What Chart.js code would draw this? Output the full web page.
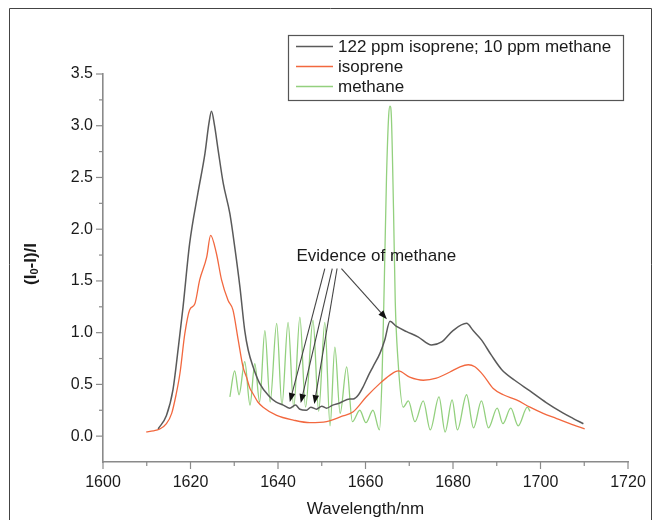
<!DOCTYPE html>
<html>
<head>
<meta charset="utf-8">
<script src="https://cdn.jsdelivr.net/npm/chart.js@4.4.1/dist/chart.umd.min.js"></script>
<style>
  html, body { margin: 0; padding: 0; background: #ffffff; }
  #wrap { width: 660px; height: 520px; position: relative; }
</style>
</head>
<body>
<div id="wrap"><canvas id="c" width="660" height="520"></canvas></div>
<script>
// ---- Data ----
const mixWavelength = [1612.6,1614.5,1616.0,1617.2,1618.3,1619.8,1621.7,1623.3,1624.2,1624.8,1625.5,1626.3,1627.5,1629.0,1630.2,1631.3,1632.4,1633.2,1634.3,1635.8,1638.1,1639.5,1641.2,1642.7,1644.0,1645.0,1646.5,1647.5,1648.8,1650.0,1651.1,1652.5,1654.1,1656.4,1657.2,1658.4,1659.5,1660.6,1661.7,1663.3,1664.4,1665.6,1667.1,1669.4,1672.0,1675.1,1677.4,1680.0,1683.1,1684.6,1686.5,1688.8,1691.1,1694.1,1697.5,1701.3,1705.1,1707.5,1709.8];
const mixValues     = [0.07,0.20,0.45,0.85,1.25,1.86,2.35,2.73,3.02,3.14,3.00,2.77,2.44,2.15,1.80,1.44,1.02,0.83,0.67,0.51,0.38,0.33,0.30,0.27,0.30,0.26,0.25,0.28,0.26,0.29,0.27,0.30,0.32,0.36,0.36,0.40,0.48,0.58,0.67,0.80,0.93,1.11,1.06,1.01,0.96,0.88,0.91,1.02,1.09,1.02,0.93,0.78,0.645,0.54,0.44,0.325,0.225,0.17,0.12];

const isopreneWavelength = [1609.9,1611.5,1613.0,1614.5,1615.7,1616.7,1617.6,1618.7,1619.8,1621.0,1622.1,1623.7,1624.6,1625.9,1627.1,1628.6,1629.7,1630.9,1632.0,1632.8,1633.6,1634.3,1635.4,1636.6,1639.7,1643.5,1647.3,1651.1,1654.5,1657.2,1660.2,1663.3,1665.6,1667.5,1670.1,1673.2,1676.2,1679.3,1681.6,1683.5,1685.0,1686.9,1689.2,1691.5,1694.5,1697.6,1700.6,1703.7,1706.7,1710.1];
const isopreneValues     = [0.04,0.05,0.07,0.12,0.22,0.40,0.61,0.99,1.22,1.28,1.51,1.73,1.94,1.77,1.51,1.31,1.22,0.93,0.67,0.57,0.46,0.41,0.33,0.28,0.20,0.155,0.13,0.14,0.19,0.235,0.38,0.51,0.59,0.63,0.57,0.54,0.56,0.62,0.67,0.69,0.67,0.59,0.46,0.40,0.35,0.28,0.22,0.17,0.12,0.07];

const methaneWavelength = [1629.0,1630.1,1631.1,1632.4,1633.6,1634.7,1635.8,1637.0,1638.2,1639.7,1640.9,1642.3,1643.6,1645.0,1646.3,1648.0,1649.3,1650.7,1651.9,1653.0,1654.2,1655.7,1657.0,1658.7,1660.1,1661.7,1663.2,1663.8,1664.3,1664.8,1665.3,1665.6,1665.9,1666.4,1666.8,1667.4,1668.6,1669.8,1671.3,1673.2,1674.8,1676.8,1678.2,1679.8,1681.0,1683.1,1684.7,1686.5,1688.1,1690.1,1691.4,1693.2,1694.9,1697.0,1697.6];
const methaneValues     = [0.38,0.63,0.40,0.72,0.30,0.70,0.33,1.02,0.33,1.09,0.30,1.10,0.28,1.15,0.28,1.12,0.24,1.10,0.10,0.86,0.22,0.67,0.14,0.25,0.13,0.25,0.06,0.60,1.50,2.50,3.10,3.19,3.10,2.20,1.30,0.75,0.28,0.34,0.14,0.34,0.06,0.38,0.04,0.35,0.06,0.40,0.08,0.34,0.08,0.27,0.12,0.27,0.10,0.28,0.24];

const seriesNames = ['122 ppm isoprene; 10 ppm methane', 'isoprene', 'methane'];
const seriesColors = ['#5a5a5a', '#f2683f', '#93d07e'];

const xTickLabels = [1600, 1620, 1640, 1660, 1680, 1700, 1720];
const yTickLabels = [0.0, 0.5, 1.0, 1.5, 2.0, 2.5, 3.0, 3.5];

// Annotation: "Evidence of methane" with arrows (data coordinates)
const annotationText = 'Evidence of methane';
const annotationAnchor = [1644.2, 1.74];
const arrowStarts = [[1650.7, 1.62], [1652.4, 1.62], [1653.5, 1.62], [1654.5, 1.62]];
const arrowTips   = [[1642.7, 0.33], [1645.2, 0.32], [1648.3, 0.31], [1664.9, 1.13]];

// ---- Build ----
function pts(xs, ys) { return xs.map((x, i) => ({ x: x, y: ys[i] })); }

const FONT = '"Liberation Sans", Arial, Helvetica, sans-serif';
Chart.defaults.font.family = FONT;

const axisColor = '#8a8a8a';

const decorPlugin = {
  id: 'decor',
  beforeDraw(chart) {
    const ctx = chart.ctx;
    ctx.save();
    ctx.fillStyle = '#ffffff';
    ctx.fillRect(0, 0, chart.width, chart.height);
    // outer frame (figure border)
    ctx.strokeStyle = '#444';
    ctx.lineWidth = 1;
    ctx.beginPath();
    ctx.moveTo(9.5, 530);
    ctx.lineTo(9.5, 8.5);
    ctx.lineTo(651.5, 8.5);
    ctx.lineTo(651.5, 530);
    ctx.stroke();
    ctx.restore();
  },
  afterDraw(chart) {
    const ctx = chart.ctx;
    const xs = chart.scales.x, ys = chart.scales.y;
    ctx.save();
    // tick marks
    ctx.strokeStyle = axisColor;
    ctx.lineWidth = 1.2;
    for (let v = 1600; v <= 1720; v += 10) {
      const px = xs.getPixelForValue(v);
      const len = (v % 20 === 0) ? 7 : 4;
      ctx.beginPath();
      ctx.moveTo(px, ys.bottom);
      ctx.lineTo(px, ys.bottom + len);
      ctx.stroke();
    }
    for (let k = 0; k <= 14; k++) {
      const v = k * 0.25;
      const py = ys.getPixelForValue(v);
      const len = (k % 2 === 0) ? 7 : 4;
      ctx.beginPath();
      ctx.moveTo(xs.left, py);
      ctx.lineTo(xs.left - len, py);
      ctx.stroke();
    }

    // y axis title with subscript
    ctx.fillStyle = '#1a1a1a';
    ctx.translate(31, 264);
    ctx.rotate(-Math.PI / 2);
    ctx.textBaseline = 'middle';
    const big = 'bold 17px ' + FONT, small = 'bold 11px ' + FONT;
    const parts = [['(I', big, 0], ['0', small, 4], ['-I)/I', big, 0]];
    let total = 0;
    parts.forEach(p => { ctx.font = p[1]; total += ctx.measureText(p[0]).width; });
    let cx = -total / 2;
    parts.forEach(p => { ctx.font = p[1]; ctx.fillText(p[0], cx, p[2]); cx += ctx.measureText(p[0]).width; });
    ctx.setTransform(1, 0, 0, 1, 0, 0);
    ctx.scale(chart.currentDevicePixelRatio, chart.currentDevicePixelRatio);

    // legend box
    ctx.strokeStyle = '#555';
    ctx.lineWidth = 1.2;
    ctx.strokeRect(288.5, 35.5, 335, 65);
    ctx.font = '17px ' + FONT;
    ctx.textBaseline = 'middle';
    ctx.fillStyle = '#1a1a1a';
    const rowsY = [46.5, 66.5, 86.5];
    seriesNames.forEach((name, i) => {
      ctx.strokeStyle = seriesColors[i];
      ctx.lineWidth = 1.5;
      ctx.beginPath();
      ctx.moveTo(296, rowsY[i]);
      ctx.lineTo(333, rowsY[i]);
      ctx.stroke();
      ctx.fillText(name, 338, rowsY[i] + 1);
    });

    // annotation
    ctx.font = '17px ' + FONT;
    ctx.fillStyle = '#1a1a1a';
    ctx.textBaseline = 'middle';
    ctx.fillText(annotationText, xs.getPixelForValue(annotationAnchor[0]), ys.getPixelForValue(annotationAnchor[1]));
    ctx.strokeStyle = '#444';
    ctx.fillStyle = '#111';
    ctx.lineWidth = 1.1;
    arrowStarts.forEach((s, i) => {
      const x0 = xs.getPixelForValue(s[0]), y0 = ys.getPixelForValue(s[1]);
      const x1 = xs.getPixelForValue(arrowTips[i][0]), y1 = ys.getPixelForValue(arrowTips[i][1]);
      const ang = Math.atan2(y1 - y0, x1 - x0);
      const hl = 9, hw = 3.3;
      const bx = x1 - hl * Math.cos(ang), by = y1 - hl * Math.sin(ang);
      ctx.beginPath();
      ctx.moveTo(x0, y0);
      ctx.lineTo(bx, by);
      ctx.stroke();
      ctx.beginPath();
      ctx.moveTo(x1, y1);
      ctx.lineTo(bx + hw * Math.sin(ang), by - hw * Math.cos(ang));
      ctx.lineTo(bx - hw * Math.sin(ang), by + hw * Math.cos(ang));
      ctx.closePath();
      ctx.fill();
    });
    ctx.restore();
  }
};

const chart = new Chart(document.getElementById('c'), {
  type: 'line',
  data: {
    datasets: [
      { label: seriesNames[0], data: pts(mixWavelength, mixValues), borderColor: seriesColors[0], borderWidth: 1.5, pointRadius: 0, cubicInterpolationMode: 'monotone', order: 1 },
      { label: seriesNames[1], data: pts(isopreneWavelength, isopreneValues), borderColor: seriesColors[1], borderWidth: 1.3, pointRadius: 0, cubicInterpolationMode: 'monotone', order: 2 },
      { label: seriesNames[2], data: pts(methaneWavelength, methaneValues), borderColor: seriesColors[2], borderWidth: 1.3, pointRadius: 0, cubicInterpolationMode: 'monotone', order: 3 }
    ]
  },
  options: {
    responsive: false,
    animation: false,
    devicePixelRatio: 1,
    layout: { padding: { left: 0, top: 74, right: 32, bottom: 0 } },
    plugins: { legend: { display: false }, tooltip: { enabled: false }, title: { display: false } },
    elements: { line: { fill: false } },
    scales: {
      x: {
        type: 'linear',
        min: 1600, max: 1720,
        afterBuildTicks: (s) => { s.ticks = xTickLabels.map(v => ({ value: v })); },
        afterFit: (s) => { s.height = 58; s.paddingLeft = 0; s.paddingRight = 0; },
        grid: { display: false, drawTicks: false },
        border: { display: true, color: axisColor, width: 1.6 },
        ticks: { padding: 11, color: '#1a1a1a', font: { size: 16 }, maxRotation: 0, autoSkip: false, callback: (v) => String(v) },
        title: { display: true, text: 'Wavelength/nm', color: '#1a1a1a', font: { size: 17 }, padding: { top: 0, bottom: 0 } }
      },
      y: {
        type: 'linear',
        min: -0.25, max: 3.5,
        afterBuildTicks: (s) => { s.ticks = yTickLabels.map(v => ({ value: v })); },
        afterFit: (s) => { s.width = 103; s.paddingTop = 0; s.paddingBottom = 0; },
        grid: { display: false, drawTicks: false },
        border: { display: true, color: axisColor, width: 1.6 },
        ticks: { padding: 10, color: '#1a1a1a', font: { size: 16 }, autoSkip: false, callback: (v) => Number(v).toFixed(1) }
      }
    }
  },
  plugins: [decorPlugin]
});
</script>
</body>
</html>
